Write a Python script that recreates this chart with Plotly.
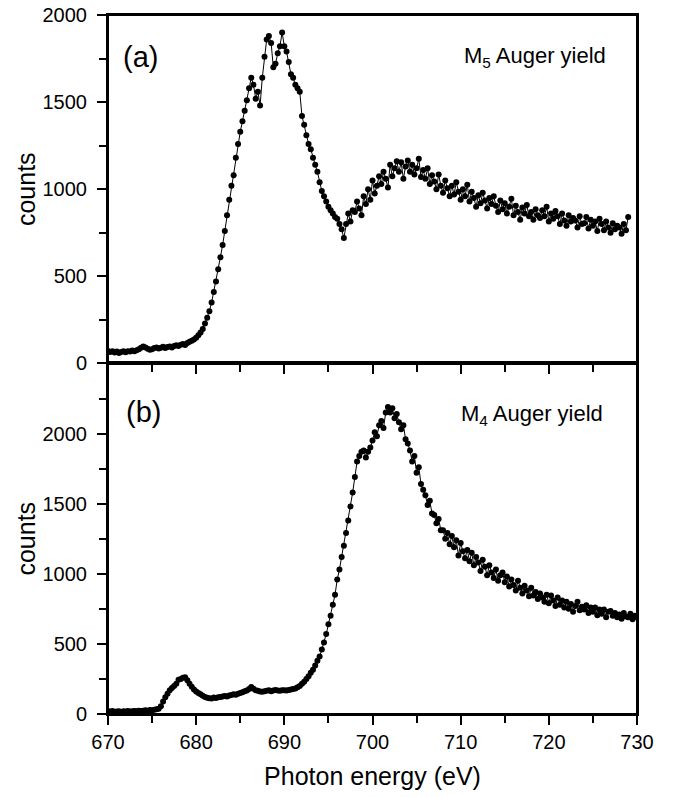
import numpy as np
import plotly.graph_objects as go
from plotly.subplots import make_subplots

# Photon energy grid (eV), 0.25 eV scan steps
m5_start, m5_step = 670.0, 0.25
m4_start, m4_step = 670.0, 0.25

# (a) M5 Auger yield counts (670.00 ... 729.00 eV)
m5_counts = [
    72, 66, 70, 63, 68, 60, 66, 70,
    64, 70, 68, 74, 70, 76, 82, 90,
    98, 92, 84, 78, 82, 88, 92, 86,
    90, 96, 88, 94, 98, 92, 100, 104,
    100, 108, 112, 106, 118, 124, 130, 138,
    148, 162, 178, 198, 230, 262, 300, 350,
    410, 470, 540, 610, 680, 760, 850, 940,
    1020, 1080, 1180, 1260, 1330, 1390, 1450, 1510,
    1580, 1640, 1600, 1520, 1560, 1480, 1640, 1760,
    1860, 1880, 1840, 1700, 1720, 1780, 1820, 1900,
    1820, 1790, 1730, 1660, 1640, 1600, 1580, 1560,
    1420, 1370, 1310, 1260, 1230, 1180, 1140, 1100,
    1040, 990, 960, 930, 900, 880, 860, 840,
    830, 800, 770, 720, 800, 860, 815, 880,
    870, 930, 890, 850, 960, 915, 1000, 940,
    1050, 975, 1020, 1075, 1030, 1100, 1060, 1010,
    1140, 1075, 1120, 1160, 1100, 1155, 1060, 1130,
    1165, 1100, 1140, 1085, 1120, 1175, 1070, 1110,
    1060, 1120, 1030, 1080, 1045, 1000, 1085, 1020,
    980, 1050, 1005, 960, 1020, 970, 1040, 985,
    940, 1000, 960, 1025, 930, 985, 950, 900,
    965, 920, 980, 935, 890, 950, 915, 960,
    905, 870, 935, 885, 920, 860, 900, 945,
    850, 905, 870, 825, 895, 860, 910, 845,
    870, 825, 885, 850, 835, 880, 845, 900,
    815, 860, 830, 875, 845, 800, 860, 820,
    790, 850, 815, 835, 820, 780, 845, 800,
    805, 840, 775, 825, 790, 815, 760, 830,
    800, 765, 815, 780, 750, 805, 770, 790,
    780, 745, 800, 765, 840,
]

# (b) M4 Auger yield counts (670.00 ... 730.00 eV)
m4_counts = [
    20, 18, 22, 16, 18, 20, 15, 19,
    17, 21, 18, 20, 22, 19, 24, 21,
    23, 26, 24, 28, 27, 30, 33, 38,
    55, 90, 120, 145, 170, 185, 200, 215,
    245, 250, 258, 262, 240, 215, 195, 175,
    160, 150, 140, 130, 122, 115, 112, 110,
    118, 114, 120, 122, 125, 128, 124, 132,
    135, 140, 138, 145, 150, 155, 162, 168,
    178, 192, 180, 170, 165, 160, 158, 162,
    165, 170, 162, 168, 172, 168, 165, 170,
    170, 168, 172, 175, 178, 182, 190, 200,
    215, 230, 250, 270, 295, 315, 345, 380,
    410, 460, 510, 570, 640, 700, 780, 850,
    960, 1030, 1120, 1200, 1290, 1380, 1480, 1580,
    1690, 1800, 1840, 1870, 1880, 1830, 1870, 1900,
    1950, 2010, 1980, 2060, 2090, 2040, 2150, 2190,
    2150, 2180, 2110, 2140, 2080, 2030, 2060, 1960,
    1930, 1880, 1800, 1840, 1720, 1760, 1640, 1600,
    1560, 1490, 1520, 1430, 1420, 1360, 1390, 1310,
    1310, 1250, 1290, 1210, 1270, 1190, 1240, 1130,
    1220, 1160, 1110, 1170, 1090, 1150, 1060, 1120,
    1080, 1020, 1100, 1050, 990, 1060, 1010, 970,
    1030, 950, 990, 1010, 940, 980, 910, 960,
    920, 880, 950, 900, 860, 915, 880, 840,
    900, 845, 870, 820, 860, 830, 800, 850,
    790, 845, 810, 770, 830, 780, 810, 760,
    800, 750, 785, 730, 770, 800, 740, 765,
    745, 775, 720, 760, 730, 760, 705, 745,
    715, 745, 690, 730, 735, 700, 720, 690,
    710, 680, 720, 695, 690, 715, 675, 700,
    690,
]

m5_energy = m5_start + m5_step * np.arange(len(m5_counts))
m4_energy = m4_start + m4_step * np.arange(len(m4_counts))

x_ticks = [670, 680, 690, 700, 710, 720, 730]
y_ticks_a = [0, 500, 1000, 1500, 2000]
y_ticks_b = [0, 500, 1000, 1500, 2000]

fig = make_subplots(rows=2, cols=1, shared_xaxes=True, vertical_spacing=0)

style = dict(mode="lines+markers", line=dict(color="black", width=1),
             marker=dict(color="black", size=6), showlegend=False)
fig.add_trace(go.Scatter(x=m5_energy, y=m5_counts, **style), row=1, col=1)
fig.add_trace(go.Scatter(x=m4_energy, y=m4_counts, **style), row=2, col=1)

FONT = "Liberation Sans, Arial, sans-serif"
axis_common = dict(showline=True, linecolor="black", linewidth=2, mirror=True,
                   ticks="outside", ticklen=9, tickwidth=2, tickcolor="black",
                   showgrid=False, zeroline=False, automargin=False,
                   tickfont=dict(family=FONT, size=20, color="black"))

fig.update_xaxes(range=[670, 730], tickvals=x_ticks,
                 minor=dict(ticks="outside", ticklen=7, tickwidth=2, tickcolor="black", dtick=5, tick0=670),
                 **axis_common)
fig.update_xaxes(showticklabels=False, row=1, col=1)
fig.update_xaxes(tickfont=dict(family=FONT, size=20, color="black"),
                 title=dict(text="Photon energy (eV)", font=dict(family=FONT, size=25, color="black"), standoff=15),
                 ticklabelstandoff=0, row=2, col=1)

fig.update_yaxes(range=[0, 2000], tickvals=y_ticks_a,
                 minor=dict(ticks="outside", ticklen=7, tickwidth=2, tickcolor="black", dtick=250, tick0=0),
                 title=dict(text="counts", font=dict(family=FONT, size=25, color="black"), standoff=0),
                 ticklabelstandoff=6, row=1, col=1, **axis_common)
fig.update_yaxes(range=[0, 2500], tickvals=y_ticks_b,
                 minor=dict(ticks="outside", ticklen=7, tickwidth=2, tickcolor="black", dtick=250, tick0=0),
                 title=dict(text="counts", font=dict(family=FONT, size=25, color="black"), standoff=0),
                 ticklabelstandoff=6, row=2, col=1, **axis_common)

fig.update_layout(
    yaxis=dict(domain=[0.5015, 1.0]),
    yaxis2=dict(domain=[0.0, 0.5015]),
)

# frame around each panel
for xr, yr in (("x domain", "y domain"), ("x2 domain", "y2 domain")):
    fig.add_shape(type="rect", xref=xr, yref=yr, x0=0, x1=1, y0=0, y1=1,
                  line=dict(color="black", width=2), fillcolor="rgba(0,0,0,0)", layer="above")

ann_font = dict(family=FONT, size=22, color="black")
fig.add_annotation(text="(a)", xref="x domain", yref="y domain", x=0.062, y=0.88,
                   xanchor="center", yanchor="middle", showarrow=False,
                   font=dict(family=FONT, size=29, color="black"))
fig.add_annotation(text="M<sub>5</sub> Auger yield", xref="x domain", yref="y domain", x=0.946, y=0.879,
                   xanchor="right", yanchor="middle", showarrow=False, font=ann_font)
fig.add_annotation(text="(b)", xref="x2 domain", yref="y2 domain", x=0.068, y=0.862,
                   xanchor="center", yanchor="middle", showarrow=False,
                   font=dict(family=FONT, size=29, color="black"))
fig.add_annotation(text="M<sub>4</sub> Auger yield", xref="x2 domain", yref="y2 domain", x=0.94, y=0.852,
                   xanchor="right", yanchor="middle", showarrow=False, font=ann_font)

fig.update_layout(
    width=673, height=797,
    margin=dict(l=108, r=36, t=15, b=83),
    paper_bgcolor="white", plot_bgcolor="white",
    font=dict(family=FONT, color="black"),
)

# remove the default 8 px page margin so the figure sits at the window origin
fig.write_html("out.html", config={"displayModeBar": False},
               post_script="document.body.style.margin='0';")
